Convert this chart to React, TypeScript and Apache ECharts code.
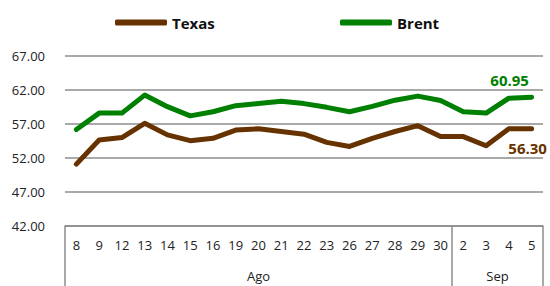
import React, { useEffect, useRef } from "react";
import * as echarts from "echarts";

const days = ["8", "9", "12", "13", "14", "15", "16", "19", "20", "21", "22", "23", "26", "27", "28", "29", "30", "2", "3", "4", "5"];
const monthNames = ["Ago", "Sep"];
const monthSizes = [17, 4];
const texas = [51.1, 54.65, 55.0, 57.1, 55.4, 54.55, 54.9, 56.1, 56.3, 55.9, 55.5, 54.3, 53.7, 54.9, 55.9, 56.75, 55.15, 55.15, 53.8, 56.3, 56.3];
const brent = [56.2, 58.6, 58.6, 61.25, 59.55, 58.2, 58.8, 59.7, 60.0, 60.35, 60.0, 59.45, 58.8, 59.6, 60.5, 61.1, 60.45, 58.8, 58.6, 60.8, 60.95];
const yTicks = [42, 47, 52, 57, 62, 67];

const FONT = "Open Sans";
const BROWN = "#663300";
const GREEN = "#008000";

export default function App() {
  const ref = useRef<HTMLDivElement>(null);
  useEffect(() => {
    if (!ref.current) return;
    const chart = echarts.init(ref.current, null, { renderer: "svg" });

    const bounds: number[] = [0];
    const centers: number[] = [];
    monthSizes.forEach((s) => {
      const start = bounds[bounds.length - 1];
      centers.push(start + s / 2);
      bounds.push(start + s);
    });

    const last = days.length - 1;
    const mk = (arr: number[], color: string, pos: string, dist: number, off: number[]) =>
      arr.map((v, i) =>
        i === last
          ? {
              value: v,
              label: {
                show: true,
                position: pos,
                distance: dist,
                offset: off,
                formatter: (p: any) => Number(p.value).toFixed(2),
                color,
                fontFamily: FONT,
                fontWeight: "bold",
                fontSize: 15,
              },
            }
          : v
      );

    chart.setOption({
      animation: false,
      grid: { left: 65, right: 7, top: 56, bottom: 60, containLabel: false },
      legend: [
        {
          data: ["Texas"],
          left: 110,
          top: 10,
          itemWidth: 52,
          itemHeight: 6,
          icon: "roundRect",
          itemGap: 3,
          textStyle: { fontFamily: FONT, fontWeight: "bold", fontSize: 15, color: "#111" },
        },
        {
          data: ["Brent"],
          left: 335,
          top: 10,
          itemWidth: 52,
          itemHeight: 6,
          icon: "roundRect",
          textStyle: { fontFamily: FONT, fontWeight: "bold", fontSize: 15, color: "#111" },
        },
      ],
      xAxis: [
        {
          type: "category",
          data: days,
          boundaryGap: true,
          axisLine: { show: true, lineStyle: { color: "#8c8c8c", width: 1.5 } },
          axisTick: { show: false },
          axisLabel: { interval: 0, margin: 12, fontFamily: FONT, fontSize: 13, color: "#222" },
          splitLine: { show: false },
        },
        {
          type: "value",
          position: "bottom",
          min: 0,
          max: days.length,
          axisLine: { show: false },
          axisTick: {
            show: true,
            customValues: bounds,
            length: 62,
            inside: false,
            lineStyle: { color: "#8c8c8c", width: 1.5 },
          },
          axisLabel: {
            customValues: centers,
            margin: 43,
            fontFamily: FONT,
            fontSize: 13,
            color: "#222",
            formatter: (v: number) => monthNames[centers.indexOf(v)] ?? "",
          },
          splitLine: { show: false },
        },
      ],
      yAxis: {
        type: "value",
        min: 42,
        max: 67,
        axisLine: { show: false },
        axisTick: { show: false, customValues: yTicks },
        axisLabel: {
          customValues: yTicks,
          margin: 20,
          fontFamily: FONT,
          fontSize: 13,
          color: "#222",
          formatter: (v: number) => v.toFixed(2),
        },
        splitLine: { show: true, lineStyle: { color: "#8c8c8c", width: 1.5 } },
      },
      series: [
        {
          name: "Texas",
          type: "line",
          xAxisIndex: 0,
          data: mk(texas, BROWN, "bottom", 12, [-4, 0]),
          symbol: "circle",
          symbolSize: 0.01,
          showSymbol: true,
          color: BROWN,
          lineStyle: { width: 5, color: BROWN, cap: "round", join: "round" },
          itemStyle: { color: BROWN },
        },
        {
          name: "Brent",
          type: "line",
          xAxisIndex: 0,
          data: mk(brent, GREEN, "top", 10, [-22, 0]),
          symbol: "circle",
          symbolSize: 0.01,
          showSymbol: true,
          color: GREEN,
          lineStyle: { width: 5, color: GREEN, cap: "round", join: "round" },
          itemStyle: { color: GREEN },
        },
      ],
    });
    return () => chart.dispose();
  }, []);
  return <div ref={ref} style={{ width: 550, height: 286, position: "absolute", left: 0, top: 0 }} />;
}
